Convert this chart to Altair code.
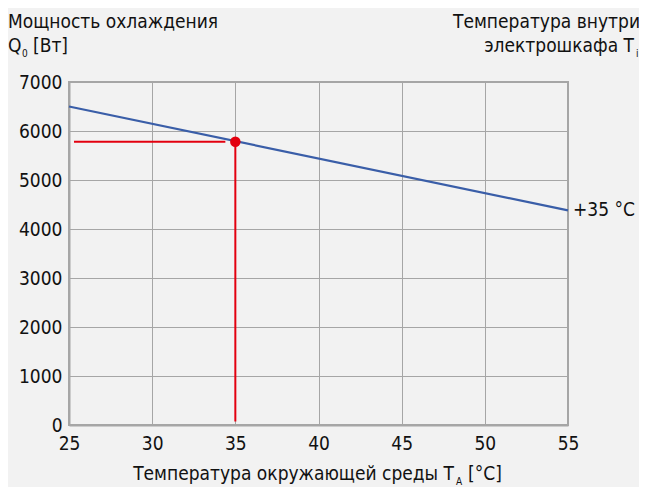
import altair as alt
import pandas as pd

# Data
line_x = [25, 55]
line_y = [6500, 4380]
point_x = [35]
point_y = [5780]
h_x = [25.3, 34.4]
h_y = [5780, 5780]
v_x = [35, 35]
v_y = [5780, 70]
x_ticks = [25, 30, 35, 40, 45, 50, 55]
y_ticks = [0, 1000, 2000, 3000, 4000, 5000, 6000, 7000]
curve_label = "+35 °C"

FONT = "DejaVu Sans Condensed, Roboto"
FS = 19
GRID = "#a6a6a6"
BG = "#f2f2f2"

line_df = pd.DataFrame({"x": line_x, "y": line_y})
pt_df = pd.DataFrame({"x": point_x, "y": point_y})
h_df = pd.DataFrame({"x": h_x, "y": h_y})
v_df = pd.DataFrame({"x": v_x, "y": v_y})
lab_df = pd.DataFrame({"x": [line_x[-1]], "y": [line_y[-1]], "t": [curve_label]})
one = pd.DataFrame({"a": [0]})

xs = alt.Scale(domain=[25, 55], nice=False)
ys = alt.Scale(domain=[0, 7000], nice=False)

xax = alt.Axis(values=x_ticks, grid=True, gridColor=GRID, ticks=False, domainColor=GRID,
               domainWidth=2, labelFont=FONT, labelFontSize=FS, labelColor="#111",
               labelPadding=9, title=None, labelFlush=False, format="d")
yax = alt.Axis(values=y_ticks, grid=True, gridColor=GRID, ticks=False, domainColor=GRID,
               domainWidth=2, labelFont=FONT, labelFontSize=FS, labelColor="#111",
               labelPadding=7, title=None, labelFlush=False, format="d")

base_line = alt.Chart(line_df).mark_line(color="#3a5ea8", strokeWidth=2.2).encode(
    x=alt.X("x:Q", scale=xs, axis=xax), y=alt.Y("y:Q", scale=ys, axis=yax))
hline = alt.Chart(h_df).mark_line(color="#e3000f", strokeWidth=2).encode(
    x=alt.X("x:Q", scale=xs), y=alt.Y("y:Q", scale=ys))
vline = alt.Chart(v_df).mark_line(color="#e3000f", strokeWidth=2).encode(
    x=alt.X("x:Q", scale=xs), y=alt.Y("y:Q", scale=ys))
pt = alt.Chart(pt_df).mark_circle(color="#e3000f", size=110, opacity=1).encode(
    x=alt.X("x:Q", scale=xs), y=alt.Y("y:Q", scale=ys))
clab = alt.Chart(lab_df).mark_text(font=FONT, fontSize=FS, align="left", baseline="middle",
                                    dx=5, color="#111").encode(
    x=alt.X("x:Q", scale=xs), y=alt.Y("y:Q", scale=ys), text="t:N")


def txt(s, x, y, size=FS, align="left"):
    return alt.Chart(one).mark_text(text=s, font=FONT, fontSize=size, align=align,
                                    baseline="alphabetic", color="#111").encode(
        x=alt.value(x), y=alt.value(y))


texts = [
    txt("Мощность охлаждения", -61, -54),
    txt("Q", -61, -30),
    txt("0", -47, -25, size=10),
    txt("[Вт]", -36, -30),
    txt("Температура внутри", 571, -54, align="right"),
    txt("электрошкафа T", 565, -30, align="right"),
    txt("i", 567, -25, size=10),
    txt("Температура окружающей среды T", 385, 398, align="right"),
    txt("A", 387, 403, size=10),
    txt("[°C]", 399, 398),
]

chart = alt.layer(base_line, hline, vline, pt, clab, *texts).properties(
    width=499, height=343, background=BG,
    padding={"left": 61, "top": 74, "right": 71, "bottom": 62},
    autosize=alt.AutoSizeParams(type="none"),
).configure_view(stroke=GRID, strokeWidth=2)

chart.save("out.html", embed_options={"renderer": "svg", "actions": False})
